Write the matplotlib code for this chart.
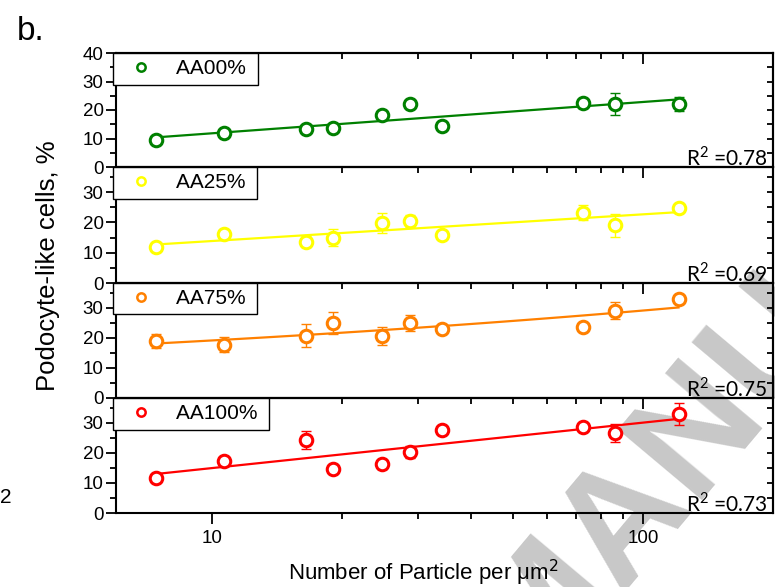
import numpy as np
import matplotlib
matplotlib.use("Agg")
import matplotlib.pyplot as plt
from matplotlib.ticker import FixedLocator, NullFormatter, FixedFormatter

plt.rcParams['font.family'] = ['Liberation Sans', 'DejaVu Sans']

# particle density (per um^2)
x = [7.44, 10.68, 16.58, 19.11, 24.76, 28.80, 34.22, 72.67, 86.1, 120.8]

labels = ['AA00%', 'AA25%', 'AA75%', 'AA100%']
colors = ['#008000', '#ffff00', '#ff8000', '#ff0000']
r2 = ['0.78', '0.69', '0.75', '0.73']
fit_kind = ['log', 'log', 'power', 'log']

y00 = [9.5, 12.0, 13.2, 13.8, 18.2, 22.0, 14.4, 22.3, 22.0, 22.1]
e00 = [0.6, 0.8, 0.8, 0.8, 0.8, 0.8, 0.8, 1.6, 3.9, 2.5]
y25 = [11.8, 16.3, 13.7, 14.9, 19.9, 20.4, 15.8, 23.2, 19.1, 24.6]
e25 = [0.8, 1.0, 1.8, 2.8, 3.3, 2.0, 0.6, 2.5, 3.8, 0.6]
y75 = [18.9, 17.8, 20.8, 25.0, 20.6, 25.0, 23.1, 23.6, 29.1, 33.0]
e75 = [2.3, 2.6, 3.7, 3.8, 3.0, 2.8, 0.6, 1.0, 2.8, 0.8]
y100 = [11.6, 17.4, 24.3, 14.6, 16.3, 20.2, 27.7, 28.6, 26.6, 32.9]
e100 = [1.0, 1.2, 3.0, 1.0, 1.5, 2.0, 0.6, 1.0, 3.0, 3.6]

ys = [y00, y25, y75, y100]
errs = [e00, e25, e75, e100]

W, H = 775, 587
fig = plt.figure(figsize=(W / 100, H / 100), dpi=100)

# panel edges in pixels (top, bottom)
edges = [(53, 167), (167, 283), (283, 398), (398, 513)]
left, right = 116, 773

xa = np.array(x)
xf = np.logspace(np.log10(xa.min()), np.log10(xa.max()), 100)
xmaj = [10, 100]
xmin = [20, 30, 40, 50, 60, 70, 80, 90]

for i in range(4):
    t, b = edges[i]
    ax = fig.add_axes([left / W, 1 - b / H, (right - left) / W, (b - t) / H])
    ax.set_facecolor('none')
    c = colors[i]
    y = np.array(ys[i])

    if fit_kind[i] == 'power':
        p = np.polyfit(np.log10(xa), np.log10(y), 1)
        yf = 10 ** np.polyval(p, np.log10(xf))
    else:
        p = np.polyfit(np.log10(xa), y, 1)
        yf = np.polyval(p, np.log10(xf))
    ax.plot(xf, yf, color=c, lw=1.6, zorder=2)

    ax.errorbar(x, y, yerr=errs[i], fmt='none', ecolor=c, elinewidth=1.0,
                capsize=3.5, capthick=1.0, zorder=3)
    ax.plot(x, y, 'o', ms=9, mfc='white', mec=c, mew=2.2, zorder=4)
    h, = ax.plot([], [], 'o', ms=6, mfc='white', mec=c, mew=1.8)

    ax.set_xscale('log')
    ax.set_xlim(6, 200)
    if i == 0:
        ax.set_ylim(0, 40)
        yt = [0, 10, 20, 30, 40]
    else:
        ax.set_ylim(0, 38.3)
        yt = [0, 10, 20, 30]
    ax.set_yticks(yt)
    ax.yaxis.set_minor_locator(FixedLocator([5, 15, 25, 35]))
    ax.xaxis.set_major_locator(FixedLocator(xmaj))
    ax.xaxis.set_major_formatter(FixedFormatter(['10', '100']))
    ax.xaxis.set_minor_locator(FixedLocator(xmin))
    ax.xaxis.set_minor_formatter(NullFormatter())

    for s in ax.spines.values():
        s.set_linewidth(1.5)
    ax.tick_params(axis='y', which='major', direction='out', length=7, width=1.3,
                   labelsize=13.5, pad=2)
    ax.tick_params(axis='y', which='minor', direction='out', length=4, width=1.3)
    if i == 3:
        ax.tick_params(axis='x', which='major', direction='out', length=8, width=1.3,
                       labelsize=13.5, pad=4)
        ax.tick_params(axis='x', which='minor', direction='out', length=4, width=1.3)
    else:
        ax.tick_params(axis='x', which='both', bottom=False, labelbottom=False)

    # inward ticks on top and right
    sx = ax.secondary_xaxis('top')
    sx.xaxis.set_major_locator(FixedLocator(xmaj))
    sx.xaxis.set_minor_locator(FixedLocator(xmin))
    sx.xaxis.set_major_formatter(NullFormatter())
    sx.xaxis.set_minor_formatter(NullFormatter())
    sx.tick_params(which='major', direction='in', length=8, width=1.3)
    sx.tick_params(which='minor', direction='in', length=4, width=1.3)
    sx.spines['top'].set_linewidth(1.5)
    sy = ax.secondary_yaxis('right')
    sy.yaxis.set_major_locator(FixedLocator(yt))
    sy.yaxis.set_minor_locator(FixedLocator([5, 15, 25, 35]))
    sy.yaxis.set_major_formatter(NullFormatter())
    sy.tick_params(which='both', direction='in', length=4, width=1.3)
    sy.spines['right'].set_linewidth(1.5)

    leg = ax.legend([h], [labels[i] + ' '], loc='upper left', bbox_to_anchor=(-0.004, 1.0),
                    borderaxespad=0, fancybox=False, framealpha=1, edgecolor='black',
                    fontsize=15, handlelength=2.1, handletextpad=0.6, borderpad=0.3)
    leg.get_frame().set_linewidth(1.0)
    leg.set_zorder(5)

    ax.text(0.992, 0.012, r'R$^{\mathregular{2}}$ =' + r2[i], transform=ax.transAxes,
            ha='right', va='baseline', fontsize=15, family='Lato', zorder=6)

fig.text(423 / W, 1 - 580 / H, 'Number of Particle per \u03bcm$^2$', ha='center',
         va='baseline', fontsize=16)
fig.text(48 / W, 1 - 266 / H, 'Podocyte-like cells, %', rotation=90, ha='center',
         va='center', fontsize=18.5)
fig.text(17 / W, 1 - 40 / H, 'b.', fontsize=24)
fig.text(0.0, 1 - 503 / H, '2', fontsize=15)
fig.text(655 / W, 1 - 480 / H, 'MANU', rotation=50, ha='center', va='center',
         fontsize=115, weight='bold', color='#c8c8c8', zorder=-1)

fig.savefig('out.png', dpi=100)
